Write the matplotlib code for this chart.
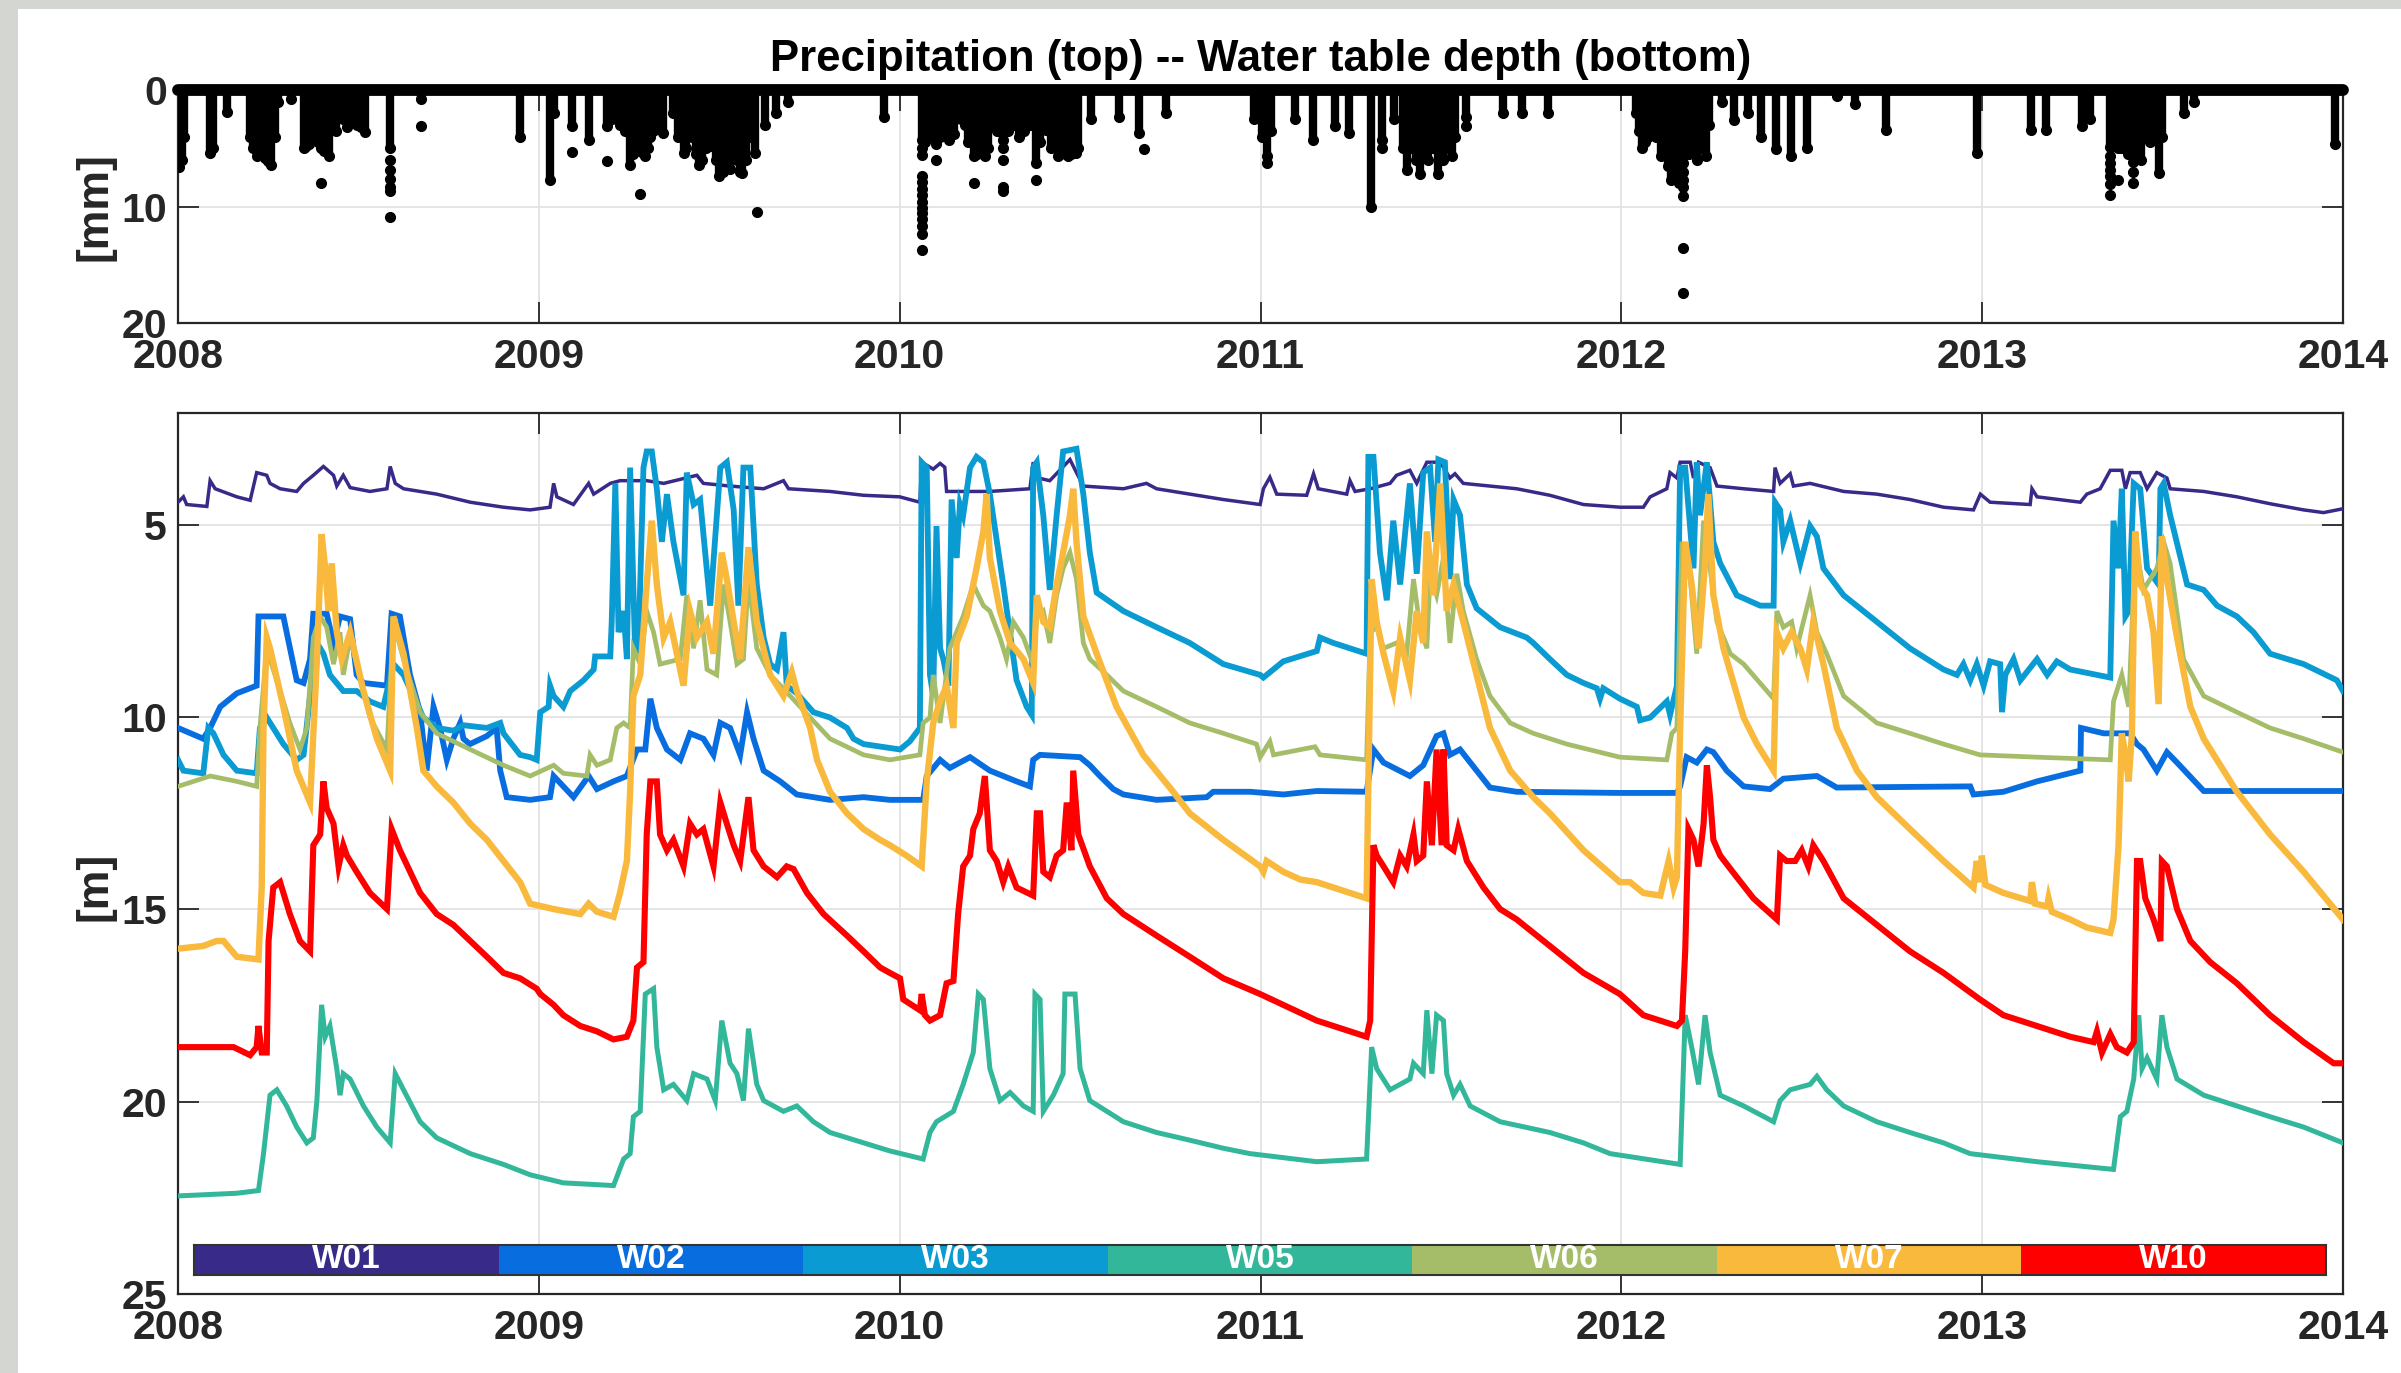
import matplotlib
matplotlib.use("Agg")
import matplotlib.pyplot as plt
from matplotlib.patches import Rectangle

plt.rcParams['font.family'] = ['Liberation Sans', 'DejaVu Sans']
plt.rcParams['font.weight'] = 'bold'

# ---------------- data ----------------
year_ticks = [2008, 2009, 2010, 2011, 2012, 2013, 2014]
precip_ticks = [0, 10, 20]
depth_ticks = [5, 10, 15, 20, 25]
record_span = [2008.0, 2014.0]          # hourly record: zero precipitation baseline

# precipitation columns: (decimal year, deepest continuous value mm)
precip_cols = [
    (2008.004, 6.6), (2008.010, 6.0), (2008.016, 4.0), (2008.089, 5.4), (2008.097, 5.0),
    (2008.136, 1.9), (2008.199, 4.0), (2008.208, 5.0), (2008.218, 5.7), (2008.230, 4.5),
    (2008.240, 5.8), (2008.249, 6.1), (2008.259, 6.4), (2008.268, 4.0), (2008.277, 1.0),
    (2008.313, 0.8), (2008.348, 5.0), (2008.355, 4.8), (2008.362, 4.6), (2008.370, 4.3),
    (2008.380, 4.0), (2008.388, 4.5), (2008.395, 5.0), (2008.405, 5.2), (2008.412, 5.0),
    (2008.419, 5.7), (2008.428, 3.0), (2008.438, 3.5), (2008.447, 2.0), (2008.457, 2.5),
    (2008.468, 3.2), (2008.480, 2.8), (2008.496, 3.0), (2008.508, 3.2), (2008.518, 3.6),
    (2008.588, 5.0), (2008.673, 0.8), (2008.949, 4.0), (2009.031, 7.7), (2009.041, 2.0),
    (2009.093, 3.1), (2009.140, 4.3), (2009.189, 3.1), (2009.203, 2.5), (2009.225, 3.0),
    (2009.239, 3.5), (2009.253, 6.4), (2009.262, 5.5), (2009.270, 5.2), (2009.281, 5.0),
    (2009.288, 5.4), (2009.295, 5.7), (2009.302, 5.0), (2009.309, 4.0), (2009.317, 3.5),
    (2009.330, 3.0), (2009.345, 3.7), (2009.373, 2.0), (2009.385, 4.0), (2009.401, 5.4),
    (2009.408, 5.0), (2009.415, 3.0), (2009.425, 4.0), (2009.435, 5.5), (2009.444, 6.4),
    (2009.452, 6.0), (2009.462, 5.0), (2009.472, 4.5), (2009.480, 4.8), (2009.490, 6.0),
    (2009.500, 7.4), (2009.510, 7.0), (2009.521, 6.3), (2009.530, 6.8), (2009.543, 5.0),
    (2009.550, 6.0), (2009.557, 7.0), (2009.564, 7.1), (2009.575, 6.0), (2009.585, 4.0),
    (2009.599, 5.4), (2009.628, 3.0), (2009.656, 2.0), (2009.691, 1.0), (2009.957, 2.3),
    (2010.061, 4.3), (2010.070, 4.5), (2010.080, 4.0), (2010.090, 3.5), (2010.102, 4.6),
    (2010.112, 4.0), (2010.120, 3.5), (2010.137, 4.3), (2010.150, 3.8), (2010.169, 2.5),
    (2010.180, 3.0), (2010.190, 4.5), (2010.205, 5.7), (2010.215, 5.5), (2010.225, 5.0),
    (2010.236, 5.7), (2010.245, 5.0), (2010.255, 3.0), (2010.270, 3.5), (2010.287, 4.3),
    (2010.300, 3.5), (2010.315, 3.0), (2010.332, 4.0), (2010.345, 3.5), (2010.360, 3.0),
    (2010.377, 6.3), (2010.390, 4.5), (2010.406, 3.4), (2010.420, 5.0), (2010.438, 5.7),
    (2010.445, 5.5), (2010.452, 5.2), (2010.460, 5.5), (2010.466, 5.7), (2010.475, 5.5),
    (2010.488, 5.4), (2010.495, 5.0), (2010.530, 2.5), (2010.608, 2.3), (2010.664, 3.7),
    (2010.739, 2.0), (2010.983, 2.5), (2011.005, 4.0), (2011.018, 5.7), (2011.028, 3.5),
    (2011.096, 2.5), (2011.145, 4.3), (2011.206, 3.1), (2011.244, 3.7), (2011.305, 10.0),
    (2011.336, 4.3), (2011.371, 2.5), (2011.395, 5.0), (2011.407, 6.9), (2011.420, 5.0),
    (2011.430, 6.0), (2011.442, 7.2), (2011.455, 5.5), (2011.465, 6.0), (2011.478, 5.0),
    (2011.492, 7.2), (2011.505, 6.0), (2011.515, 5.0), (2011.531, 5.7), (2011.540, 4.0),
    (2011.569, 2.3), (2011.673, 2.0), (2011.725, 2.0), (2011.796, 2.0), (2012.040, 2.0),
    (2012.048, 3.5), (2012.057, 5.0), (2012.065, 4.5), (2012.075, 4.0), (2012.082, 3.1),
    (2012.095, 4.0), (2012.111, 5.7), (2012.120, 5.0), (2012.130, 6.5), (2012.139, 7.7),
    (2012.150, 6.5), (2012.160, 8.0), (2012.171, 5.7), (2012.180, 5.0), (2012.188, 5.5),
    (2012.196, 4.6), (2012.210, 6.0), (2012.220, 5.0), (2012.234, 5.7), (2012.243, 3.0),
    (2012.280, 1.0), (2012.311, 2.6), (2012.351, 2.0), (2012.386, 4.0), (2012.429, 5.1),
    (2012.471, 5.7), (2012.514, 5.0), (2012.599, 0.5), (2012.648, 1.2), (2012.733, 3.4),
    (2012.987, 5.4), (2013.136, 3.4), (2013.178, 3.4), (2013.277, 3.1), (2013.298, 2.5),
    (2013.355, 4.9), (2013.362, 4.0), (2013.376, 5.0), (2013.385, 5.0), (2013.395, 4.0),
    (2013.405, 5.5), (2013.419, 5.5), (2013.430, 5.0), (2013.440, 6.0), (2013.454, 4.0),
    (2013.465, 4.5), (2013.475, 4.0), (2013.489, 7.1), (2013.498, 4.0), (2013.560, 2.0),
    (2013.588, 1.0), (2013.977, 4.6),
]
# isolated precipitation readings (decimal year, mm)
precip_dots = [
    (2008.395, 8.0), (2008.588, 6.0), (2008.588, 6.9), (2008.588, 7.6), (2008.588, 8.3),
    (2008.588, 8.7), (2008.588, 10.9), (2008.673, 3.1), (2009.093, 5.3), (2009.189, 6.1),
    (2009.281, 8.9), (2009.606, 10.5), (2010.061, 5.0), (2010.061, 5.6), (2010.061, 7.4),
    (2010.061, 7.9), (2010.061, 8.5), (2010.061, 9.0), (2010.061, 9.6), (2010.061, 10.1),
    (2010.061, 10.6), (2010.061, 11.1), (2010.061, 11.7), (2010.061, 12.4), (2010.061, 13.7),
    (2010.102, 6.0), (2010.205, 8.0), (2010.287, 5.0), (2010.287, 6.0), (2010.287, 8.3),
    (2010.287, 8.7), (2010.377, 7.7), (2010.678, 5.1), (2011.018, 6.3), (2011.336, 5.0),
    (2011.569, 3.1), (2012.171, 6.3), (2012.171, 7.0), (2012.171, 7.7), (2012.171, 8.3),
    (2012.171, 9.1), (2012.171, 13.6), (2012.171, 17.4), (2013.355, 5.7), (2013.355, 6.3),
    (2013.355, 6.9), (2013.355, 7.4), (2013.355, 8.1), (2013.355, 9.0), (2013.376, 7.7),
    (2013.419, 6.2), (2013.419, 7.0), (2013.419, 8.0),
]

wells = ['W01', 'W02', 'W03', 'W05', 'W06', 'W07', 'W10']
well_colors = ['#372a88', '#086ee0', '#0a9bd2', '#33b79b', '#a5bd69', '#f9b93c', '#ff0000']

W01 = [
    (2008.000, 4.41), (2008.015, 4.27), (2008.024, 4.47), (2008.080, 4.52), (2008.089, 3.85),
    (2008.103, 4.06), (2008.163, 4.27), (2008.200, 4.36), (2008.218, 3.64), (2008.246, 3.71),
    (2008.255, 3.92), (2008.283, 4.06), (2008.329, 4.13), (2008.348, 3.92), (2008.375, 3.71),
    (2008.403, 3.48), (2008.431, 3.71), (2008.440, 3.99), (2008.458, 3.71), (2008.477, 4.03),
    (2008.532, 4.13), (2008.579, 4.06), (2008.588, 3.48), (2008.602, 3.92), (2008.625, 4.06),
    (2008.717, 4.20), (2008.810, 4.41), (2008.902, 4.54), (2008.976, 4.61), (2009.031, 4.54),
    (2009.041, 3.92), (2009.050, 4.27), (2009.096, 4.47), (2009.138, 3.92), (2009.152, 4.20),
    (2009.198, 3.92), (2009.225, 3.85), (2009.299, 3.85), (2009.346, 3.92), (2009.438, 3.71),
    (2009.456, 3.92), (2009.530, 3.99), (2009.623, 4.06), (2009.678, 3.85), (2009.692, 4.06),
    (2009.807, 4.13), (2009.900, 4.23), (2010.000, 4.27), (2010.056, 4.41), (2010.061, 3.37),
    (2010.093, 3.55), (2010.112, 3.40), (2010.125, 3.50), (2010.130, 4.13), (2010.250, 4.13),
    (2010.361, 4.06), (2010.370, 3.37), (2010.384, 3.78), (2010.416, 3.85), (2010.472, 3.30),
    (2010.490, 3.64), (2010.509, 3.99), (2010.620, 4.06), (2010.684, 3.92), (2010.712, 4.06),
    (2010.804, 4.20), (2010.897, 4.34), (2010.999, 4.47), (2011.008, 4.06), (2011.026, 3.76),
    (2011.045, 4.20), (2011.128, 4.23), (2011.147, 3.67), (2011.160, 4.06), (2011.239, 4.20),
    (2011.248, 3.85), (2011.262, 4.13), (2011.304, 4.06), (2011.359, 3.92), (2011.377, 3.71),
    (2011.414, 3.58), (2011.433, 3.92), (2011.461, 3.37), (2011.498, 3.37), (2011.525, 3.78),
    (2011.539, 3.67), (2011.562, 3.92), (2011.710, 4.06), (2011.802, 4.23), (2011.895, 4.47),
    (2011.997, 4.54), (2012.061, 4.54), (2012.080, 4.27), (2012.126, 4.06), (2012.135, 3.64),
    (2012.154, 3.78), (2012.163, 3.37), (2012.191, 3.37), (2012.200, 3.78), (2012.214, 3.37),
    (2012.246, 3.51), (2012.265, 3.99), (2012.339, 4.06), (2012.422, 4.13), (2012.426, 3.51),
    (2012.440, 3.92), (2012.468, 3.67), (2012.477, 3.99), (2012.523, 3.92), (2012.616, 4.13),
    (2012.708, 4.20), (2012.800, 4.34), (2012.893, 4.54), (2012.976, 4.61), (2012.995, 4.20),
    (2013.022, 4.41), (2013.133, 4.47), (2013.138, 4.06), (2013.152, 4.27), (2013.272, 4.41),
    (2013.290, 4.20), (2013.327, 4.06), (2013.355, 3.58), (2013.387, 3.58), (2013.397, 4.06),
    (2013.410, 3.64), (2013.438, 3.64), (2013.457, 4.06), (2013.484, 3.64), (2013.512, 3.78),
    (2013.521, 4.06), (2013.614, 4.13), (2013.706, 4.27), (2013.798, 4.45), (2013.891, 4.61),
    (2013.946, 4.68), (2014.000, 4.58),
]

W02 = [
    (2008.000, 10.28), (2008.070, 10.56), (2008.089, 10.28), (2008.117, 9.73), (2008.163, 9.38),
    (2008.218, 9.18), (2008.223, 7.38), (2008.292, 7.38), (2008.301, 7.79), (2008.329, 9.04),
    (2008.348, 9.11), (2008.366, 8.49), (2008.375, 7.31), (2008.412, 7.31), (2008.431, 8.07),
    (2008.449, 7.38), (2008.477, 7.45), (2008.495, 8.90), (2008.514, 9.11), (2008.579, 9.18),
    (2008.592, 7.31), (2008.615, 7.38), (2008.643, 8.90), (2008.671, 9.87), (2008.689, 11.39),
    (2008.708, 9.73), (2008.726, 10.28), (2008.745, 11.11), (2008.763, 10.56), (2008.782, 10.15),
    (2008.791, 10.56), (2008.809, 10.70), (2008.856, 10.49), (2008.883, 10.28), (2008.893, 11.39),
    (2008.911, 12.08), (2008.976, 12.15), (2009.031, 12.08), (2009.041, 11.53), (2009.096, 12.08),
    (2009.138, 11.53), (2009.161, 11.87), (2009.207, 11.67), (2009.244, 11.53), (2009.272, 10.84),
    (2009.295, 10.84), (2009.309, 9.52), (2009.327, 10.28), (2009.355, 10.84), (2009.392, 11.11),
    (2009.419, 10.42), (2009.456, 10.56), (2009.484, 10.98), (2009.503, 10.15), (2009.530, 10.28),
    (2009.558, 10.98), (2009.577, 9.87), (2009.595, 10.56), (2009.623, 11.39), (2009.669, 11.67),
    (2009.715, 12.01), (2009.807, 12.15), (2009.900, 12.08), (2009.973, 12.15), (2010.065, 12.15),
    (2010.075, 11.53), (2010.112, 11.11), (2010.139, 11.32), (2010.195, 11.04), (2010.250, 11.39),
    (2010.324, 11.67), (2010.361, 11.80), (2010.370, 11.11), (2010.389, 10.98), (2010.500, 11.04),
    (2010.527, 11.25), (2010.555, 11.53), (2010.592, 11.87), (2010.620, 12.01), (2010.712, 12.15),
    (2010.851, 12.08), (2010.869, 11.94), (2010.971, 11.94), (2011.063, 12.01), (2011.156, 11.92),
    (2011.294, 11.94), (2011.313, 10.84), (2011.341, 11.18), (2011.414, 11.53), (2011.451, 11.25),
    (2011.488, 10.49), (2011.507, 10.42), (2011.525, 10.98), (2011.553, 10.84), (2011.599, 11.39),
    (2011.636, 11.83), (2011.710, 11.94), (2011.996, 11.97), (2012.154, 11.97), (2012.163, 11.80),
    (2012.181, 11.04), (2012.209, 11.18), (2012.237, 10.84), (2012.255, 10.91), (2012.292, 11.39),
    (2012.339, 11.80), (2012.412, 11.87), (2012.449, 11.60), (2012.542, 11.53), (2012.597, 11.83),
    (2012.967, 11.80), (2012.976, 12.01), (2013.059, 11.94), (2013.152, 11.67), (2013.272, 11.39),
    (2013.274, 10.28), (2013.337, 10.42), (2013.410, 10.42), (2013.429, 10.70), (2013.447, 10.84),
    (2013.484, 11.39), (2013.512, 10.91), (2013.540, 11.18), (2013.614, 11.92), (2014.000, 11.92),
]

W03 = [
    (2008.000, 11.11), (2008.015, 11.39), (2008.070, 11.46), (2008.084, 10.28), (2008.098, 10.42),
    (2008.126, 10.98), (2008.163, 11.39), (2008.218, 11.46), (2008.227, 10.28), (2008.246, 10.01),
    (2008.292, 10.70), (2008.329, 11.11), (2008.348, 10.98), (2008.366, 9.45), (2008.385, 8.07),
    (2008.403, 8.35), (2008.421, 8.90), (2008.458, 9.32), (2008.495, 9.32), (2008.532, 9.59),
    (2008.569, 9.73), (2008.597, 8.62), (2008.625, 8.90), (2008.680, 10.01), (2008.717, 10.28),
    (2008.763, 10.35), (2008.791, 10.21), (2008.856, 10.28), (2008.893, 10.15), (2008.902, 10.42),
    (2008.948, 10.98), (2008.976, 11.04), (2008.994, 11.11), (2009.004, 9.87), (2009.027, 9.73),
    (2009.031, 9.18), (2009.041, 9.45), (2009.068, 9.73), (2009.087, 9.32), (2009.124, 9.04),
    (2009.152, 8.76), (2009.156, 8.42), (2009.198, 8.42), (2009.202, 7.52), (2009.212, 3.92),
    (2009.221, 7.79), (2009.235, 7.24), (2009.244, 8.49), (2009.253, 3.51), (2009.267, 8.35),
    (2009.276, 8.21), (2009.290, 3.51), (2009.299, 3.09), (2009.313, 3.09), (2009.327, 4.06),
    (2009.341, 5.44), (2009.355, 4.20), (2009.373, 5.44), (2009.401, 6.83), (2009.410, 3.64),
    (2009.429, 4.47), (2009.447, 4.34), (2009.475, 7.10), (2009.503, 3.51), (2009.521, 3.37),
    (2009.540, 4.61), (2009.553, 7.10), (2009.567, 3.51), (2009.586, 3.51), (2009.604, 6.55),
    (2009.623, 7.93), (2009.641, 8.62), (2009.660, 8.76), (2009.678, 7.79), (2009.687, 9.18),
    (2009.715, 9.38), (2009.761, 9.87), (2009.807, 10.01), (2009.854, 10.28), (2009.872, 10.56),
    (2009.900, 10.70), (2010.001, 10.84), (2010.028, 10.63), (2010.056, 10.28), (2010.061, 3.37),
    (2010.075, 3.51), (2010.084, 8.90), (2010.093, 9.45), (2010.102, 5.03), (2010.112, 8.21),
    (2010.121, 8.49), (2010.135, 9.18), (2010.144, 4.34), (2010.158, 5.86), (2010.167, 4.47),
    (2010.176, 4.75), (2010.195, 3.51), (2010.213, 3.23), (2010.232, 3.37), (2010.250, 4.20),
    (2010.287, 6.55), (2010.324, 9.04), (2010.352, 9.73), (2010.366, 9.94), (2010.370, 3.51),
    (2010.380, 3.37), (2010.398, 4.75), (2010.416, 6.69), (2010.435, 4.75), (2010.453, 3.09),
    (2010.490, 3.02), (2010.509, 4.20), (2010.527, 5.72), (2010.546, 6.76), (2010.620, 7.24),
    (2010.712, 7.66), (2010.804, 8.07), (2010.897, 8.62), (2010.999, 8.90), (2011.008, 8.97),
    (2011.063, 8.55), (2011.156, 8.28), (2011.165, 7.93), (2011.202, 8.07), (2011.294, 8.35),
    (2011.299, 3.23), (2011.313, 3.23), (2011.331, 5.72), (2011.350, 6.96), (2011.368, 4.89),
    (2011.387, 6.55), (2011.414, 3.92), (2011.433, 6.27), (2011.451, 3.64), (2011.470, 3.51),
    (2011.484, 5.44), (2011.493, 3.30), (2011.511, 3.37), (2011.525, 6.41), (2011.535, 4.34),
    (2011.553, 4.75), (2011.572, 6.55), (2011.599, 7.17), (2011.664, 7.66), (2011.738, 7.93),
    (2011.756, 8.07), (2011.802, 8.49), (2011.849, 8.90), (2011.895, 9.11), (2011.932, 9.25),
    (2011.941, 9.52), (2011.950, 9.25), (2011.996, 9.52), (2012.043, 9.73), (2012.052, 10.08),
    (2012.080, 10.01), (2012.126, 9.59), (2012.135, 9.94), (2012.154, 9.18), (2012.163, 3.51),
    (2012.177, 3.51), (2012.200, 6.13), (2012.209, 3.37), (2012.218, 4.75), (2012.237, 3.37),
    (2012.255, 5.44), (2012.274, 6.00), (2012.320, 6.83), (2012.385, 7.10), (2012.422, 7.10),
    (2012.426, 4.41), (2012.440, 4.61), (2012.449, 5.44), (2012.468, 4.89), (2012.482, 5.44),
    (2012.496, 6.00), (2012.523, 5.03), (2012.542, 5.30), (2012.560, 6.13), (2012.616, 6.83),
    (2012.708, 7.52), (2012.800, 8.21), (2012.893, 8.76), (2012.930, 8.90), (2012.948, 8.62),
    (2012.967, 9.04), (2012.985, 8.62), (2013.004, 9.18), (2013.022, 8.55), (2013.050, 8.62),
    (2013.055, 9.87), (2013.064, 8.90), (2013.087, 8.49), (2013.106, 9.04), (2013.152, 8.49),
    (2013.180, 8.90), (2013.207, 8.55), (2013.244, 8.76), (2013.318, 8.90), (2013.355, 8.97),
    (2013.364, 4.89), (2013.378, 6.13), (2013.387, 4.06), (2013.397, 7.38), (2013.406, 7.24),
    (2013.420, 3.92), (2013.438, 4.06), (2013.457, 6.13), (2013.489, 6.55), (2013.494, 4.06),
    (2013.503, 3.92), (2013.521, 4.75), (2013.568, 6.55), (2013.614, 6.69), (2013.651, 7.10),
    (2013.706, 7.38), (2013.752, 7.79), (2013.798, 8.35), (2013.891, 8.62), (2013.983, 9.04),
    (2014.000, 9.32),
]

W05 = [
    (2008.000, 22.45), (2008.163, 22.38), (2008.223, 22.31), (2008.237, 21.35), (2008.255, 19.83),
    (2008.274, 19.69), (2008.301, 20.11), (2008.329, 20.66), (2008.357, 21.07), (2008.375, 20.94),
    (2008.385, 19.97), (2008.398, 17.48), (2008.408, 18.31), (2008.421, 18.03), (2008.440, 19.14),
    (2008.449, 19.83), (2008.458, 19.27), (2008.477, 19.41), (2008.514, 20.11), (2008.551, 20.66),
    (2008.588, 21.07), (2008.602, 19.27), (2008.625, 19.69), (2008.671, 20.52), (2008.717, 20.94),
    (2008.810, 21.35), (2008.902, 21.63), (2008.976, 21.90), (2009.068, 22.11), (2009.207, 22.18),
    (2009.235, 21.49), (2009.253, 21.35), (2009.262, 20.39), (2009.281, 20.25), (2009.295, 17.20),
    (2009.318, 17.06), (2009.327, 18.58), (2009.346, 19.69), (2009.373, 19.55), (2009.410, 19.97),
    (2009.429, 19.27), (2009.466, 19.41), (2009.489, 19.97), (2009.507, 17.89), (2009.530, 19.00),
    (2009.549, 19.27), (2009.567, 19.97), (2009.581, 18.10), (2009.604, 19.55), (2009.623, 19.97),
    (2009.678, 20.25), (2009.715, 20.11), (2009.761, 20.52), (2009.807, 20.80), (2009.900, 21.07),
    (2009.973, 21.28), (2010.065, 21.49), (2010.084, 20.80), (2010.102, 20.52), (2010.149, 20.25),
    (2010.176, 19.55), (2010.204, 18.72), (2010.218, 17.20), (2010.232, 17.34), (2010.250, 19.14),
    (2010.278, 19.97), (2010.306, 19.76), (2010.343, 20.11), (2010.370, 20.25), (2010.375, 17.20),
    (2010.389, 17.34), (2010.398, 20.25), (2010.426, 19.83), (2010.453, 19.27), (2010.458, 17.20),
    (2010.486, 17.20), (2010.500, 19.14), (2010.527, 19.97), (2010.620, 20.52), (2010.712, 20.80),
    (2010.804, 21.00), (2010.897, 21.21), (2010.971, 21.35), (2011.156, 21.56), (2011.294, 21.49),
    (2011.308, 18.58), (2011.322, 19.14), (2011.359, 19.69), (2011.414, 19.41), (2011.424, 19.00),
    (2011.451, 19.27), (2011.461, 17.62), (2011.475, 19.27), (2011.488, 17.75), (2011.507, 17.89),
    (2011.516, 19.27), (2011.535, 19.83), (2011.553, 19.55), (2011.581, 20.11), (2011.664, 20.52),
    (2011.802, 20.80), (2011.895, 21.07), (2011.969, 21.35), (2012.163, 21.63), (2012.177, 17.75),
    (2012.195, 18.58), (2012.214, 19.55), (2012.232, 17.75), (2012.246, 18.72), (2012.274, 19.83),
    (2012.339, 20.11), (2012.422, 20.52), (2012.440, 19.97), (2012.468, 19.69), (2012.523, 19.55),
    (2012.542, 19.34), (2012.569, 19.69), (2012.616, 20.11), (2012.708, 20.52), (2012.800, 20.80),
    (2012.893, 21.07), (2012.967, 21.35), (2013.152, 21.56), (2013.364, 21.76), (2013.383, 20.39),
    (2013.401, 20.25), (2013.420, 19.41), (2013.434, 17.75), (2013.443, 19.14), (2013.457, 18.86),
    (2013.484, 19.41), (2013.498, 17.75), (2013.512, 18.58), (2013.540, 19.41), (2013.614, 19.83),
    (2013.706, 20.11), (2013.798, 20.39), (2013.891, 20.66), (2014.000, 21.07),
]

W06 = [
    (2008.000, 11.80), (2008.089, 11.53), (2008.163, 11.67), (2008.218, 11.80), (2008.227, 10.28),
    (2008.246, 8.21), (2008.255, 8.49), (2008.283, 9.32), (2008.310, 10.15), (2008.338, 10.84),
    (2008.357, 10.28), (2008.375, 7.93), (2008.394, 7.38), (2008.412, 7.66), (2008.431, 8.62),
    (2008.449, 7.79), (2008.458, 8.90), (2008.477, 7.93), (2008.495, 8.62), (2008.532, 10.01),
    (2008.579, 10.84), (2008.597, 7.52), (2008.625, 8.49), (2008.671, 9.87), (2008.717, 10.42),
    (2008.810, 10.84), (2008.902, 11.25), (2008.976, 11.53), (2009.041, 11.25), (2009.068, 11.46),
    (2009.133, 11.53), (2009.142, 10.98), (2009.161, 11.25), (2009.198, 11.11), (2009.216, 10.28),
    (2009.235, 10.15), (2009.253, 10.28), (2009.262, 8.21), (2009.281, 8.62), (2009.299, 7.24),
    (2009.318, 7.79), (2009.336, 8.62), (2009.392, 8.49), (2009.410, 6.83), (2009.429, 8.21),
    (2009.447, 6.96), (2009.466, 8.76), (2009.493, 8.90), (2009.512, 6.55), (2009.530, 7.52),
    (2009.549, 8.62), (2009.567, 8.49), (2009.581, 6.41), (2009.604, 8.21), (2009.641, 8.90),
    (2009.697, 9.45), (2009.752, 10.01), (2009.807, 10.56), (2009.900, 10.98), (2009.973, 11.11),
    (2010.056, 10.98), (2010.065, 10.15), (2010.084, 10.01), (2010.093, 8.90), (2010.112, 10.15),
    (2010.139, 8.21), (2010.176, 7.38), (2010.204, 6.55), (2010.232, 7.10), (2010.250, 7.24),
    (2010.278, 7.93), (2010.296, 8.49), (2010.315, 7.52), (2010.343, 7.93), (2010.370, 8.62),
    (2010.380, 7.38), (2010.398, 7.24), (2010.416, 8.07), (2010.435, 6.83), (2010.453, 6.13),
    (2010.472, 5.72), (2010.490, 6.41), (2010.509, 8.07), (2010.527, 8.49), (2010.574, 8.90),
    (2010.620, 9.32), (2010.712, 9.73), (2010.804, 10.15), (2010.897, 10.42), (2010.989, 10.70),
    (2010.999, 11.04), (2011.026, 10.63), (2011.036, 10.98), (2011.151, 10.77), (2011.165, 10.98),
    (2011.294, 11.11), (2011.304, 7.79), (2011.322, 7.66), (2011.341, 8.21), (2011.377, 8.07),
    (2011.405, 8.35), (2011.424, 6.41), (2011.442, 7.66), (2011.461, 8.21), (2011.470, 6.27),
    (2011.488, 6.83), (2011.507, 5.86), (2011.525, 8.07), (2011.544, 6.27), (2011.562, 7.24),
    (2011.599, 8.49), (2011.636, 9.45), (2011.692, 10.15), (2011.756, 10.42), (2011.849, 10.70),
    (2011.996, 11.04), (2012.126, 11.11), (2012.140, 10.42), (2012.154, 10.28), (2012.168, 5.44),
    (2012.191, 6.41), (2012.209, 8.35), (2012.228, 4.89), (2012.246, 6.13), (2012.265, 7.52),
    (2012.302, 8.35), (2012.339, 8.62), (2012.422, 9.52), (2012.431, 7.24), (2012.449, 7.66),
    (2012.472, 7.52), (2012.486, 8.21), (2012.523, 6.83), (2012.542, 7.79), (2012.569, 8.35),
    (2012.616, 9.45), (2012.708, 10.15), (2012.800, 10.42), (2012.893, 10.70), (2012.994, 10.98),
    (2013.152, 11.04), (2013.355, 11.11), (2013.364, 9.59), (2013.387, 8.90), (2013.406, 9.73),
    (2013.420, 6.55), (2013.434, 6.00), (2013.447, 6.69), (2013.484, 6.13), (2013.503, 5.44),
    (2013.521, 6.00), (2013.558, 8.49), (2013.614, 9.45), (2013.706, 9.87), (2013.798, 10.28),
    (2013.891, 10.56), (2014.000, 10.91),
]

W07 = [
    (2008.000, 16.02), (2008.070, 15.95), (2008.107, 15.82), (2008.126, 15.82), (2008.163, 16.23),
    (2008.223, 16.30), (2008.232, 14.43), (2008.237, 10.28), (2008.246, 7.93), (2008.255, 8.21),
    (2008.292, 9.73), (2008.329, 11.39), (2008.366, 12.22), (2008.385, 8.49), (2008.398, 5.24),
    (2008.408, 6.13), (2008.417, 7.24), (2008.426, 6.00), (2008.440, 7.79), (2008.454, 8.49),
    (2008.477, 7.79), (2008.514, 9.32), (2008.551, 10.56), (2008.588, 11.39), (2008.597, 7.38),
    (2008.625, 8.35), (2008.662, 10.28), (2008.680, 11.39), (2008.717, 11.80), (2008.763, 12.22),
    (2008.810, 12.77), (2008.856, 13.19), (2008.902, 13.74), (2008.948, 14.29), (2008.976, 14.85),
    (2009.041, 14.99), (2009.115, 15.12), (2009.138, 14.85), (2009.161, 15.06), (2009.207, 15.19),
    (2009.225, 14.57), (2009.244, 13.74), (2009.253, 11.94), (2009.262, 9.45), (2009.281, 8.90),
    (2009.299, 6.55), (2009.313, 4.89), (2009.327, 6.55), (2009.346, 7.93), (2009.364, 7.52),
    (2009.401, 9.18), (2009.419, 7.24), (2009.438, 7.93), (2009.466, 7.52), (2009.484, 8.35),
    (2009.507, 5.72), (2009.521, 6.41), (2009.540, 7.52), (2009.558, 8.49), (2009.581, 5.58),
    (2009.604, 7.52), (2009.641, 8.90), (2009.678, 9.45), (2009.701, 8.83), (2009.715, 9.32),
    (2009.752, 10.28), (2009.771, 11.11), (2009.807, 11.94), (2009.854, 12.50), (2009.900, 12.91),
    (2009.946, 13.19), (2009.973, 13.33), (2010.019, 13.60), (2010.061, 13.88), (2010.075, 11.67),
    (2010.093, 10.15), (2010.112, 9.59), (2010.130, 9.18), (2010.149, 10.28), (2010.158, 8.07),
    (2010.186, 7.38), (2010.213, 6.13), (2010.232, 5.17), (2010.241, 4.20), (2010.250, 5.86),
    (2010.278, 7.24), (2010.306, 8.07), (2010.343, 8.49), (2010.370, 9.11), (2010.380, 6.83),
    (2010.398, 7.52), (2010.416, 7.66), (2010.435, 6.55), (2010.453, 5.72), (2010.472, 4.75),
    (2010.481, 4.06), (2010.490, 5.44), (2010.509, 7.38), (2010.546, 8.35), (2010.601, 9.73),
    (2010.675, 10.98), (2010.758, 11.94), (2010.804, 12.50), (2010.897, 13.19), (2010.999, 13.88),
    (2011.008, 14.02), (2011.017, 13.74), (2011.063, 14.02), (2011.110, 14.22), (2011.156, 14.29),
    (2011.248, 14.57), (2011.294, 14.71), (2011.299, 11.67), (2011.308, 6.41), (2011.322, 7.52),
    (2011.341, 8.35), (2011.368, 9.32), (2011.387, 7.93), (2011.414, 9.04), (2011.433, 7.24),
    (2011.451, 8.07), (2011.461, 5.17), (2011.479, 6.83), (2011.498, 3.92), (2011.516, 7.24),
    (2011.535, 6.55), (2011.562, 7.52), (2011.599, 8.90), (2011.636, 10.28), (2011.692, 11.39),
    (2011.756, 12.08), (2011.802, 12.50), (2011.895, 13.46), (2011.996, 14.29), (2012.024, 14.29),
    (2012.061, 14.57), (2012.108, 14.64), (2012.131, 13.74), (2012.145, 14.43), (2012.154, 14.16),
    (2012.163, 10.28), (2012.177, 5.44), (2012.195, 6.55), (2012.214, 8.21), (2012.232, 6.00),
    (2012.241, 4.20), (2012.255, 6.83), (2012.283, 8.21), (2012.339, 10.01), (2012.376, 10.70),
    (2012.422, 11.39), (2012.431, 7.79), (2012.449, 8.21), (2012.472, 7.79), (2012.496, 8.21),
    (2012.514, 8.76), (2012.532, 7.52), (2012.560, 8.62), (2012.597, 10.28), (2012.653, 11.39),
    (2012.708, 12.08), (2012.800, 12.91), (2012.893, 13.74), (2012.976, 14.43), (2012.985, 13.74),
    (2012.995, 14.29), (2012.999, 13.60), (2013.009, 14.36), (2013.059, 14.57), (2013.133, 14.78),
    (2013.138, 14.29), (2013.147, 14.85), (2013.180, 14.92), (2013.184, 14.71), (2013.193, 15.06),
    (2013.244, 15.26), (2013.290, 15.47), (2013.355, 15.61), (2013.364, 15.26), (2013.378, 13.33),
    (2013.387, 10.42), (2013.397, 10.98), (2013.406, 11.67), (2013.415, 10.42), (2013.424, 5.17),
    (2013.438, 6.55), (2013.457, 6.83), (2013.475, 7.79), (2013.489, 9.66), (2013.498, 5.30),
    (2013.512, 6.41), (2013.540, 7.93), (2013.577, 9.73), (2013.614, 10.56), (2013.706, 11.94),
    (2013.798, 13.05), (2013.891, 14.02), (2014.000, 15.26),
]

W10 = [
    (2008.000, 18.58), (2008.154, 18.58), (2008.200, 18.79), (2008.218, 18.58), (2008.223, 18.03),
    (2008.232, 18.72), (2008.246, 18.72), (2008.251, 15.82), (2008.264, 14.43), (2008.283, 14.29),
    (2008.310, 15.12), (2008.338, 15.82), (2008.366, 16.09), (2008.375, 13.33), (2008.394, 13.05),
    (2008.403, 11.67), (2008.412, 12.36), (2008.431, 12.77), (2008.445, 13.88), (2008.458, 13.33),
    (2008.468, 13.60), (2008.495, 14.02), (2008.532, 14.57), (2008.579, 14.99), (2008.592, 12.91),
    (2008.615, 13.46), (2008.671, 14.57), (2008.717, 15.12), (2008.763, 15.40), (2008.810, 15.82),
    (2008.856, 16.23), (2008.902, 16.65), (2008.948, 16.79), (2008.994, 17.06), (2009.004, 17.20),
    (2009.041, 17.48), (2009.068, 17.75), (2009.115, 18.03), (2009.161, 18.17), (2009.207, 18.38),
    (2009.244, 18.31), (2009.262, 17.89), (2009.272, 16.51), (2009.290, 16.37), (2009.299, 13.05),
    (2009.309, 11.67), (2009.327, 11.67), (2009.336, 13.05), (2009.355, 13.46), (2009.373, 13.19),
    (2009.401, 13.88), (2009.419, 12.77), (2009.438, 13.05), (2009.456, 12.91), (2009.484, 13.88),
    (2009.503, 12.22), (2009.521, 12.77), (2009.540, 13.33), (2009.558, 13.74), (2009.581, 12.08),
    (2009.595, 13.46), (2009.623, 13.88), (2009.660, 14.16), (2009.687, 13.88), (2009.706, 13.95),
    (2009.743, 14.57), (2009.789, 15.12), (2009.854, 15.68), (2009.900, 16.09), (2009.946, 16.51),
    (2009.973, 16.65), (2010.001, 16.79), (2010.010, 17.34), (2010.056, 17.62), (2010.061, 17.20),
    (2010.070, 17.75), (2010.084, 17.89), (2010.112, 17.75), (2010.130, 16.92), (2010.149, 16.86),
    (2010.162, 15.12), (2010.176, 13.88), (2010.195, 13.60), (2010.204, 12.91), (2010.222, 12.50),
    (2010.236, 11.53), (2010.250, 13.46), (2010.269, 13.74), (2010.287, 14.29), (2010.301, 13.88),
    (2010.324, 14.43), (2010.370, 14.64), (2010.380, 12.50), (2010.389, 12.50), (2010.398, 14.02),
    (2010.416, 14.16), (2010.435, 13.60), (2010.453, 13.46), (2010.463, 12.22), (2010.476, 13.46),
    (2010.481, 11.39), (2010.495, 13.05), (2010.527, 13.88), (2010.574, 14.71), (2010.620, 15.12),
    (2010.712, 15.68), (2010.804, 16.23), (2010.897, 16.79), (2010.999, 17.20), (2011.063, 17.48),
    (2011.156, 17.89), (2011.248, 18.17), (2011.294, 18.31), (2011.304, 17.89), (2011.313, 13.33),
    (2011.322, 13.60), (2011.341, 13.88), (2011.368, 14.29), (2011.387, 13.60), (2011.405, 13.88),
    (2011.424, 13.05), (2011.433, 13.74), (2011.451, 13.60), (2011.461, 11.67), (2011.475, 13.33),
    (2011.488, 10.84), (2011.502, 13.33), (2011.507, 10.84), (2011.516, 13.33), (2011.535, 13.46),
    (2011.548, 12.91), (2011.572, 13.74), (2011.618, 14.43), (2011.664, 14.99), (2011.710, 15.26),
    (2011.802, 15.95), (2011.895, 16.65), (2011.996, 17.20), (2012.061, 17.75), (2012.154, 18.03),
    (2012.168, 17.89), (2012.177, 16.09), (2012.186, 12.91), (2012.200, 13.19), (2012.214, 13.88),
    (2012.228, 12.77), (2012.237, 11.25), (2012.246, 12.08), (2012.255, 13.19), (2012.274, 13.60),
    (2012.320, 14.16), (2012.366, 14.71), (2012.431, 15.26), (2012.440, 13.60), (2012.458, 13.74),
    (2012.482, 13.74), (2012.500, 13.46), (2012.518, 13.88), (2012.532, 13.33), (2012.560, 13.74),
    (2012.616, 14.71), (2012.708, 15.40), (2012.800, 16.09), (2012.893, 16.65), (2012.994, 17.34),
    (2013.059, 17.75), (2013.152, 18.03), (2013.244, 18.31), (2013.309, 18.45), (2013.318, 18.17),
    (2013.332, 18.72), (2013.355, 18.24), (2013.373, 18.58), (2013.401, 18.72), (2013.420, 18.45),
    (2013.429, 13.74), (2013.438, 13.74), (2013.452, 14.71), (2013.475, 15.26), (2013.494, 15.82),
    (2013.498, 13.74), (2013.512, 13.88), (2013.540, 14.99), (2013.577, 15.82), (2013.632, 16.37),
    (2013.706, 16.92), (2013.798, 17.75), (2013.891, 18.45), (2013.974, 19.00), (2014.000, 19.00),
]

well_series = [W01, W02, W03, W05, W06, W07, W10]
well_lw = [2.5, 4.2, 4.2, 3.6, 3.4, 4.6, 4.4]

title = 'Precipitation (top) -- Water table depth (bottom)'

# ---------------- figure ----------------
W, H = 2401, 1373
fig = plt.figure(figsize=(W / 100, H / 100), dpi=100)
fig.patch.set_facecolor('#d4d6d1')
fig.add_artist(Rectangle((18 / W, 0), 1, 1 - 9 / H, transform=fig.transFigure,
                         facecolor='white', edgecolor='none', zorder=-10))

spine_c = '#262626'
grid_c = '#e3e3e3'
tick_fs = 29.5


def style_axes(ax):
    for s in ax.spines.values():
        s.set_color(spine_c)
        s.set_linewidth(1.6)
    ax.tick_params(direction='in', length=15, width=1.3, color=spine_c,
                   top=True, right=True, labelsize=tick_fs, labelcolor='#262626')
    ax.tick_params(axis='x', pad=11)
    ax.tick_params(axis='y', pad=8)
    ax.grid(True, color=grid_c, linewidth=1.3)
    ax.set_axisbelow(True)
    ax.set_xlim(year_ticks[0], year_ticks[-1])
    ax.set_xticks(year_ticks)
    ax.set_xticklabels([str(y) for y in year_ticks])
    for lab in ax.get_xticklabels() + ax.get_yticklabels():
        lab.set_fontweight('bold')


# --- top: precipitation ---
ax1 = fig.add_axes([178 / W, 1 - 323 / H, 2165 / W, 233 / H])
style_axes(ax1)
pc_t = [p[0] for p in precip_cols]
pc_v = [p[1] for p in precip_cols]
ax1.vlines(pc_t, 0, pc_v, color='black', linewidth=6.0, zorder=3)
ax1.plot(pc_t, pc_v, 'o', color='black', markersize=7, zorder=3)
ax1.plot([p[0] for p in precip_dots], [p[1] for p in precip_dots], 'o',
         color='black', markersize=7, zorder=3)
ax1.plot(record_span, [0, 0], color='black', linewidth=8.5, solid_capstyle='round',
         zorder=4, clip_on=False)
ax1.set_ylim(precip_ticks[-1], precip_ticks[0])
ax1.set_yticks(precip_ticks)
ax1.set_ylabel('[mm]', fontsize=32, fontweight='bold', color='#262626')
ax1.yaxis.set_label_coords(-0.029, 0.5)
ax1.set_title(title, fontsize=31.5, fontweight='bold', color='black', pad=14)

# --- bottom: water table depth ---
ax2 = fig.add_axes([178 / W, 1 - 1294 / H, 2165 / W, 881 / H])
style_axes(ax2)
for name, series, col, lw in zip(wells, well_series, well_colors, well_lw):
    ax2.plot([p[0] for p in series], [p[1] for p in series], color=col,
             linewidth=lw, solid_joinstyle='miter', zorder=3, label=name)
ax2.set_ylim(25, 2.09)
ax2.set_yticks(depth_ticks)
ax2.set_ylabel('[m]', fontsize=32, fontweight='bold', color='#262626')
ax2.yaxis.set_label_coords(-0.029, 0.463)

# --- legend bar ---
leg = ax2.inset_axes([0.0074, 0.0216, 0.9847, 0.034])
for i, (name, col) in enumerate(zip(wells, well_colors)):
    leg.barh(0, 1, left=i, height=1, color=col, edgecolor='none')
    leg.text(i + 0.5, 0, name, ha='center', va='center', color='white',
             fontsize=24, fontweight='bold')
leg.set_xlim(0, len(wells))
leg.set_ylim(-0.5, 0.5)
leg.set_xticks([])
leg.set_yticks([])
for s in leg.spines.values():
    s.set_color('#333333')
    s.set_linewidth(1.5)
leg.set_zorder(5)

fig.savefig('out.png', dpi=100, facecolor=fig.get_facecolor())
